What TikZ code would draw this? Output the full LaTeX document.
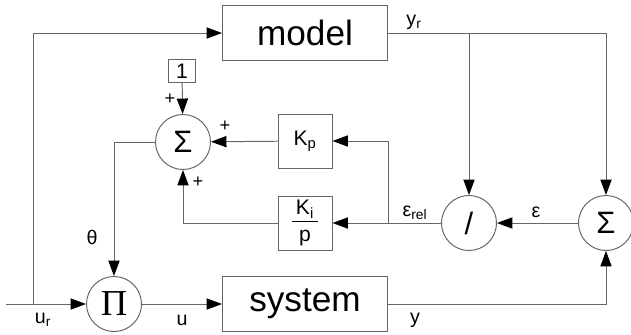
\documentclass[tikz,border=0pt]{standalone}
\usepackage{fontspec}
\setmainfont{Liberation Sans}
\newfontfamily\serifgreek{Liberation Serif}
\usetikzlibrary{arrows.meta}

\begin{document}
\begin{tikzpicture}[x=0.025cm, y=0.025cm,
		line/.style={draw=black!60, line width=0.7pt},
		arr/.style={line, -{Triangle[length=11pt, width=8pt, color=black]}},
		block/.style={line, minimum width=4.125cm, minimum height=1.375cm, inner sep=0pt, font=\fontsize{25}{30}\selectfont},
		gain/.style={line, minimum size=1.35cm, inner sep=0pt, font=\fontsize{15}{18}\selectfont},
		op/.style={line, circle, minimum size=1.375cm, inner sep=0pt},
		lbl/.style={font=\fontsize{14}{16}\selectfont, inner sep=0pt},
		sgn/.style={font=\fontsize{13}{15}\selectfont, inner sep=0pt}]
		% Frame of the picture
		\useasboundingbox (0,0) rectangle (631,-335);
		
		% --- BLOCKS ---
		\node[block] (model) at (305,-33) {model};
		\node[block] (system) at (305,-304) {system};
		\node[gain, minimum width=0.675cm, minimum height=0.575cm] (one) at (182,-71) {1};
		\node[gain] (kp) at (305,-141) {K\textsubscript{p}};
		\node[gain] (ki) at (305,-223) {\begin{tabular}{@{\,}c@{\,}}K\textsubscript{i}\\[-1pt]\hline\rule{0pt}{14pt}p\end{tabular}};
		
		% --- OPERATORS ---
		\node[op, font=\fontsize{22}{26}\selectfont] (sumA) at (183,-142) {Σ};
		\node[op, font=\fontsize{22}{26}\selectfont] (sumB) at (606,-223) {Σ};
		\node[op, font=\fontsize{22}{26}\selectfont] (divn) at (469,-223) {/};
		\node[op, font=\fontsize{26}{30}\selectfont\serifgreek] (prod) at (114,-304) {Π};
		
		% Branch points
		\coordinate (in) at (6,-304);
		\coordinate (ursplit) at (33,-304);
		\coordinate (yrsplit) at (469,-33);
		\coordinate (relsplit) at (388,-223);
		
		% --- CONNECTORS ---
		\draw[arr] (in) -- (prod);
		\draw[arr] (ursplit) |- (model.west);
		\draw[arr] (prod) -- (system);
		\draw[arr] (system.east) -| (sumB.south);
		\draw[arr] (model.east) -| (sumB.north);
		\draw[arr] (yrsplit) -- (divn.north);
		\draw[arr] (sumB) -- (divn);
		\draw[arr] (divn) -- (ki);
		\draw[arr] (relsplit) |- (kp.east);
		\draw[arr] (ki.west) -| (sumA.south);
		\draw[arr] (kp) -- (sumA);
		\draw[arr] (one) -- (sumA);
		\draw[arr] (sumA.west) -| (prod.north);
		
		% --- SIGNALS ---
		\node[lbl] (yrlbl) at (414,-22) {y\textsubscript{r}};
		\node[lbl] (thlbl) at (92,-237) {θ};
		\node[lbl] (urlbl) at (43,-320) {u\textsubscript{r}};
		\node[lbl] (ulbl) at (182,-320) {u};
		\node[lbl] (ylbl) at (415,-320) {y};
		\node[lbl] (elbl) at (536,-212) {ε};
		\node[lbl] (erlbl) at (415,-213) {ε\textsubscript{rel}};
		
		% Signs at the summers
		\node[sgn] (s1) at (170,-99) {+};
		\node[sgn] (s2) at (225,-126) {+};
		\node[sgn] (s3) at (198,-182) {+};
		\node[sgn] (s4) at (636,-183) {+};
		\node[sgn] (s5) at (636,-262) {+};
		
	\end{tikzpicture}
\end{document}
